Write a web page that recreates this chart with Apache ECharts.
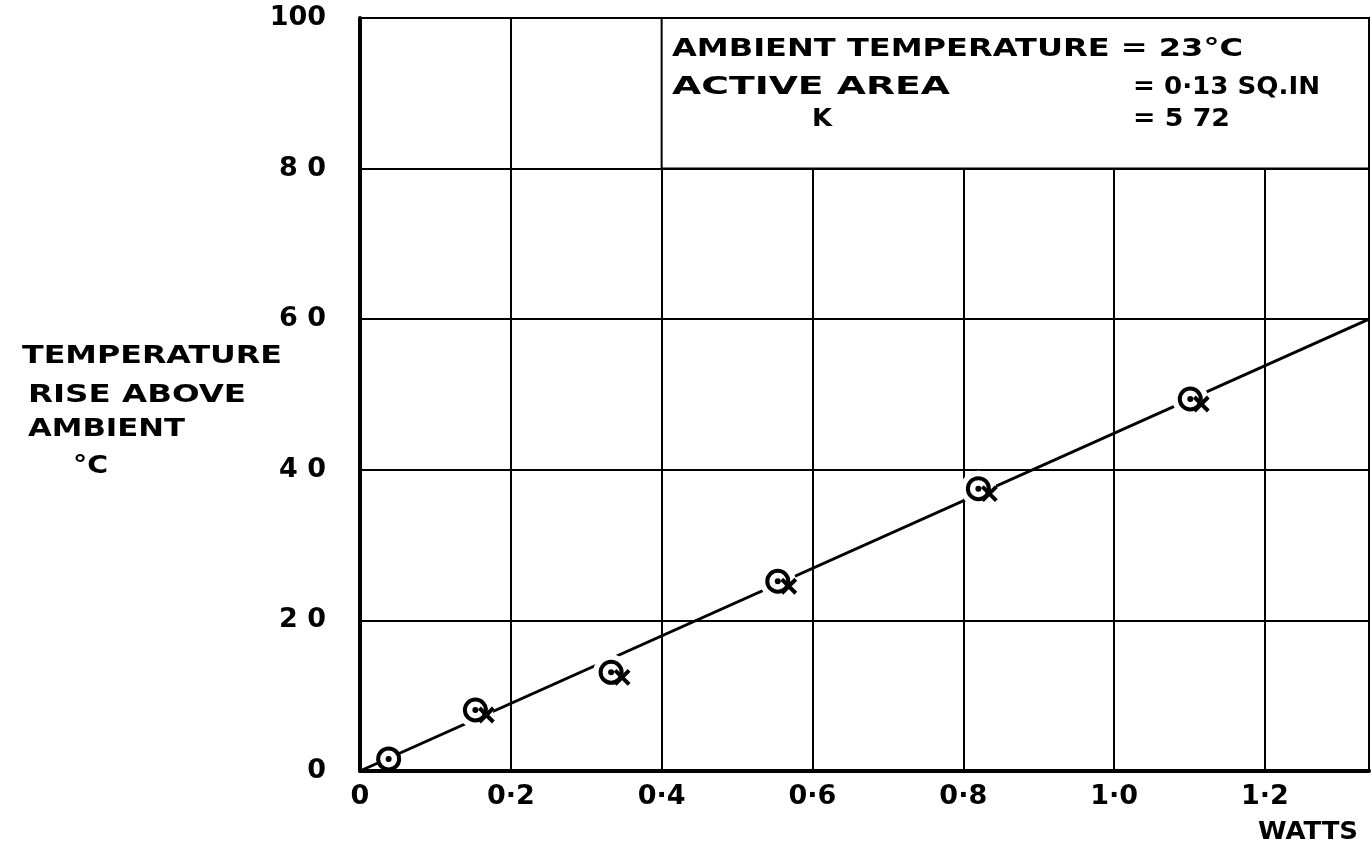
<!DOCTYPE html>
<html><head><meta charset="utf-8">
<script src="https://cdn.jsdelivr.net/npm/echarts@6/dist/echarts.min.js"></script>
<style>html,body{margin:0;padding:0;background:#fff}#c{width:1372px;height:852px}</style>
</head><body><div id="c"></div>
<script>
// Data
const watts = [0.038, 0.153, 0.333, 0.554, 0.820, 1.101];
const tempRise = [1.6, 8.1, 13.1, 25.2, 37.5, 49.4];
const fitLine = [[0, 0], [1.338, 60]];
const xTicks = ['0', '0·2', '0·4', '0·6', '0·8', '1·0', '1·2'];
const yTicks = ['0', '2 0', '4 0', '6 0', '8 0', '100'];
const noteLines = ['AMBIENT TEMPERATURE = 23°C', 'ACTIVE AREA', '= 0·13 SQ.IN', 'K', '= 5 72'];
const yTitle = ['TEMPERATURE', 'RISE ABOVE', 'AMBIENT', '°C'];
const xTitle = 'WATTS';

const pts = watts.map((w, i) => [w, tempRise[i]]);
const FONT = 'DejaVu Sans';
const chart = echarts.init(document.getElementById('c'));

const xPath = 'path://M0,0 L10,10 M0,10 L10,0';

const ctx = document.createElement('canvas').getContext('2d');
ctx.font = 'bold 25px ' + FONT;
// place a text so that it spans [left, left+width]
function txt(s, left, top, width) {
  const w = ctx.measureText(s).width;
  return { type: 'text', x: left, y: top, scaleX: width / w, z: 100,
    style: { text: s, fontFamily: FONT, fontWeight: 'bold', fontSize: 25, fill: '#000' } };
}

chart.setOption({
  animation: false,
  backgroundColor: '#fff',
  grid: { left: 360, right: 0, top: 18, bottom: 81 },
  xAxis: {
    type: 'value', min: 0, max: 1.338, interval: 0.2,
    axisLine: { show: true, onZero: false, lineStyle: { color: '#000', width: 4 } },
    axisTick: { show: false },
    splitLine: { show: true, lineStyle: { color: '#000', width: 2 } },
    axisLabel: {
      color: '#000', fontFamily: FONT, fontWeight: 'bold', fontSize: 27, margin: 12,
      formatter: v => { const i = Math.round(v / 0.2); return (Math.abs(v - i * 0.2) < 1e-6 && i < xTicks.length) ? xTicks[i] : ''; }
    }
  },
  yAxis: {
    type: 'value', min: 0, max: 100, interval: 20,
    axisLine: { show: true, onZero: false, lineStyle: { color: '#000', width: 4 } },
    axisTick: { show: false },
    splitLine: { show: true, lineStyle: { color: '#000', width: 2 } },
    axisLabel: {
      color: '#000', fontFamily: FONT, fontWeight: 'bold', fontSize: 27, margin: 34,
      formatter: v => yTicks[Math.round(v / 20)]
    }
  },
  series: [
    {
      type: 'line', data: fitLine, symbol: 'none', z: 3,
      lineStyle: { color: '#000', width: 3 },
      markArea: {
        silent: true,
        itemStyle: { color: '#fff', opacity: 1, borderColor: '#000', borderWidth: 2 },
        data: [[{ coord: [0.4, 80] }, { coord: [1.338, 100] }]]
      }
    },
    {
      type: 'scatter', data: pts, z: 4, silent: true,
      symbol: 'circle', symbolSize: v => v[1] < 3 ? 22 : 36,
      itemStyle: { color: '#fff', opacity: 1 }
    },
    {
      type: 'scatter', data: pts, z: 5, silent: true,
      symbol: 'circle', symbolSize: 21,
      itemStyle: { color: '#fff', opacity: 1, borderColor: '#000', borderWidth: 4 }
    },
    {
      type: 'scatter', data: pts, z: 6, silent: true,
      symbol: 'circle', symbolSize: 6,
      itemStyle: { color: '#000', opacity: 1 }
    },
    {
      type: 'scatter', data: pts.slice(1), z: 6, silent: true,
      symbol: xPath, symbolSize: 14, symbolOffset: [11, 5],
      itemStyle: { color: 'none', opacity: 1, borderColor: '#000', borderWidth: 4 }
    }
  ],
  graphic: [
    txt(noteLines[0], 672, 37, 571),
    txt(noteLines[1], 672, 75, 278),
    txt(noteLines[2], 1133, 75, 187),
    txt(noteLines[3], 812, 107, 20),
    txt(noteLines[4], 1133, 107, 97),
    txt(yTitle[0], 22, 344, 260),
    txt(yTitle[1], 28, 383, 218),
    txt(yTitle[2], 28, 417, 157),
    txt(yTitle[3], 73, 454, 35),
    txt(xTitle, 1258, 820, 100)
  ]
});
</script></body></html>
